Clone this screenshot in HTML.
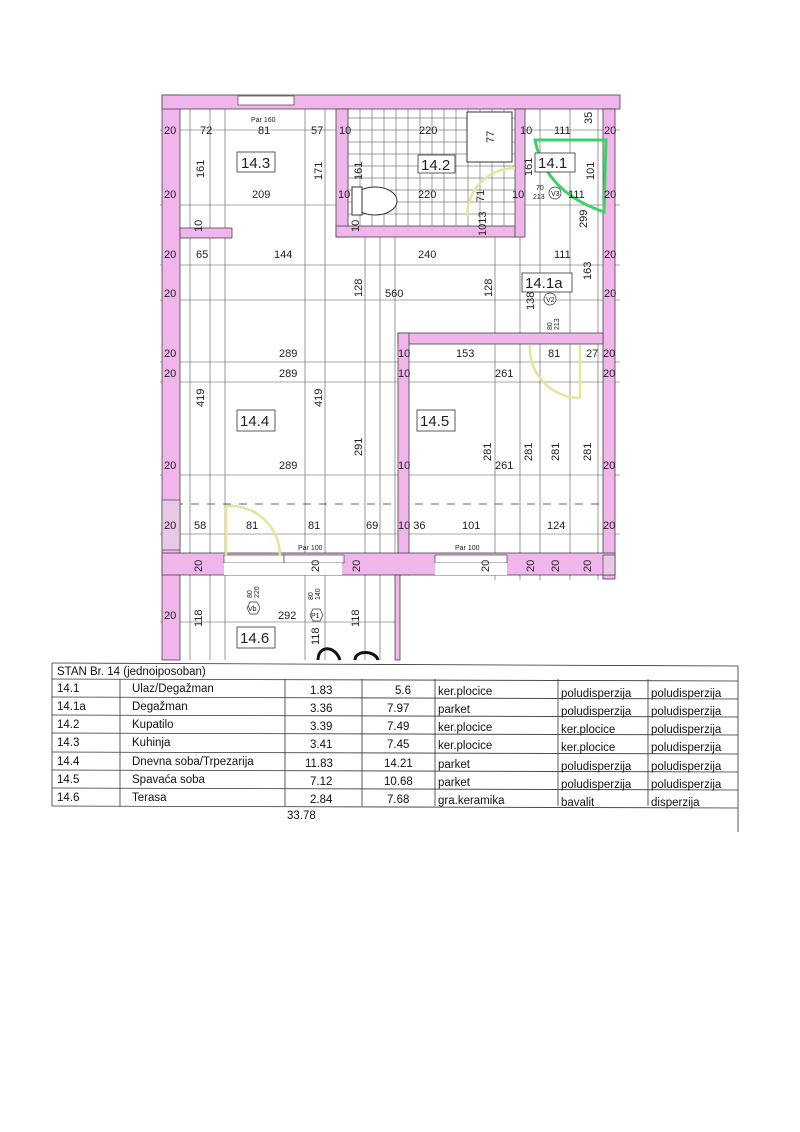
<!DOCTYPE html>
<html><head><meta charset="utf-8"><style>
body{margin:0;background:#fff;}
svg{display:block}
text{font-family:"Liberation Sans",sans-serif;font-size:11px;fill:#222}
.s{font-size:7px}
.b{font-size:15px}
.t{font-size:11.5px;fill:#111}
</style></head><body>
<svg width="800" height="1132" viewBox="0 0 800 1132" xmlns="http://www.w3.org/2000/svg">
<rect width="800" height="1132" fill="#fff"/>
<!-- grid lines -->
<g stroke="#555" stroke-width="0.6">
<line x1="160" y1="130" x2="620" y2="130"/>
<line x1="160" y1="205" x2="620" y2="205"/>
<line x1="160" y1="265" x2="620" y2="265"/>
<line x1="160" y1="300" x2="620" y2="300"/>
<line x1="160" y1="362" x2="620" y2="362"/>
<line x1="160" y1="382" x2="620" y2="382"/>
<line x1="160" y1="475" x2="620" y2="475"/>
<line x1="160" y1="534" x2="620" y2="534"/>
<line x1="160" y1="622" x2="400" y2="622"/>
<line x1="190" y1="95" x2="190" y2="660"/>
<line x1="210" y1="95" x2="210" y2="660"/>
<line x1="225" y1="95" x2="225" y2="660"/>
<line x1="305" y1="95" x2="305" y2="660"/>
<line x1="325" y1="95" x2="325" y2="660"/>
<line x1="365" y1="95" x2="365" y2="660"/>
<line x1="380" y1="95" x2="380" y2="660"/>
<line x1="395" y1="95" x2="395" y2="580"/>
<line x1="495" y1="95" x2="495" y2="580"/>
<line x1="520" y1="95" x2="520" y2="580"/>
<line x1="540" y1="95" x2="540" y2="580"/>
<line x1="570" y1="95" x2="570" y2="580"/>
<line x1="598" y1="95" x2="598" y2="580"/>
</g>
<line x1="175" y1="504" x2="600" y2="504" stroke="#333" stroke-width="0.8" stroke-dasharray="8,8"/>
<!-- bathroom tiles -->
<g stroke="#444" stroke-width="0.5">
<rect x="348" y="108" width="170" height="120" fill="#fff"/>
<path d="M348 118H518M348 130H518M348 142H518M348 154H518M348 166H518M348 178H518M348 190H518M348 202H518M348 214H518"/>
<path d="M360 108V228M372 108V228M384 108V228M396 108V228M408 108V228M420 108V228M432 108V228M444 108V228M456 108V228M468 108V228M480 108V228M492 108V228M504 108V228"/>
</g>
<rect x="467" y="112" width="45" height="50" fill="#fff" stroke="#333"/>
<ellipse cx="375" cy="201" rx="22" ry="14" fill="#fff" stroke="#333"/>
<rect x="352" y="187" width="10" height="28" fill="#fff" stroke="#333"/>
<!-- walls -->
<g fill="#f0b6ec" stroke="#444" stroke-width="0.8">
<rect x="162" y="95" width="18" height="565"/>
<rect x="162" y="95" width="458" height="14"/>
<rect x="603" y="109" width="12" height="470"/>
<rect x="336" y="109" width="12" height="128"/>
<rect x="336" y="226" width="184" height="11"/>
<rect x="515" y="109" width="10" height="128"/>
<rect x="180" y="228" width="52" height="10"/>
<rect x="398" y="333" width="205" height="11"/>
<rect x="398" y="333" width="11" height="242"/>
<rect x="162" y="553" width="453" height="22"/>
<rect x="395" y="575" width="5" height="85"/>
</g>
<!-- openings -->
<g fill="#fff" stroke="#444" stroke-width="0.7">
<rect x="238" y="96" width="56" height="9"/>
<rect x="224" y="555" width="60" height="8"/>
<rect x="284" y="555" width="60" height="8"/>
<rect x="435" y="555" width="72" height="8"/>
<rect x="224" y="563" width="60" height="12" stroke="none"/>
<rect x="284" y="563" width="58" height="12" stroke="none"/>
<rect x="435" y="563" width="72" height="12" stroke="none"/>
<rect x="162" y="500" width="18" height="50" fill="#e8c8e6"/>
<rect x="603" y="555" width="12" height="20" fill="#e8c8e6"/>
</g>
<!-- doors -->
<g fill="none" stroke="#e8e39a" stroke-width="2.5">
<path d="M226 506 A50 50 0 0 1 280 556"/>
<line x1="226" y1="506" x2="226" y2="556"/>
<path d="M515 168 A48 48 0 0 0 467 216"/>
<path d="M530 345 A50 50 0 0 0 580 398"/>
<line x1="580" y1="345" x2="580" y2="398"/>
</g>
<path d="M535 140 L606 140 L604 212 C585 205 545 190 535 140 Z" fill="none" stroke="#3fd06a" stroke-width="3"/>
<!-- room boxes -->
<g fill="#fff" stroke="#333" stroke-width="0.8">
<rect x="237" y="152" width="38" height="20"/>
<rect x="418" y="155" width="37" height="18"/>
<rect x="535" y="153" width="40" height="19"/>
<rect x="522" y="273" width="50" height="19"/>
<rect x="237" y="410" width="38" height="21"/>
<rect x="417" y="410" width="38" height="21"/>
<rect x="237" y="627" width="38" height="21"/>
</g>
<text class="b" x="241" y="168">14.3</text>
<text class="b" x="421" y="170">14.2</text>
<text class="b" x="538" y="168">14.1</text>
<text class="b" x="525" y="288">14.1a</text>
<text class="b" x="240" y="426">14.4</text>
<text class="b" x="420" y="426">14.5</text>
<text class="b" x="240" y="643">14.6</text>
<!-- dims -->
<g>
<text x="164" y="134">20</text><text x="200" y="134">72</text><text x="258" y="134">81</text><text x="311" y="134">57</text><text x="339" y="134">10</text><text x="419" y="134">220</text><text x="520" y="134">10</text><text x="554" y="134">111</text><text x="604" y="134">20</text>
<text class="s" x="251" y="122">Par 160</text>
<text x="164" y="198">20</text><text x="252" y="198">209</text><text x="338" y="198">10</text><text x="418" y="198">220</text><text x="512" y="198">10</text><text x="568" y="198">111</text><text x="604" y="198">20</text>
<text class="s" x="536" y="190">70</text><text class="s" x="533" y="199">213</text>
<circle cx="555" cy="193" r="6" fill="#fff" stroke="#333" stroke-width="0.7"/><text class="s" x="551" y="196">V3</text>
<text x="164" y="258">20</text><text x="196" y="258">65</text><text x="274" y="258">144</text><text x="418" y="258">240</text><text x="554" y="258">111</text><text x="604" y="258">20</text>
<text x="164" y="297">20</text><text x="385" y="297">560</text><text x="604" y="297">20</text>
<circle cx="550" cy="299" r="6" fill="#fff" stroke="#333" stroke-width="0.7"/><text class="s" x="546" y="302">V2</text>
<text x="164" y="357">20</text><text x="279" y="357">289</text><text x="398" y="357">10</text><text x="456" y="357">153</text><text x="548" y="357">81</text><text x="586" y="357">27</text><text x="603" y="357">20</text>
<text x="164" y="377">20</text><text x="279" y="377">289</text><text x="398" y="377">10</text><text x="495" y="377">261</text><text x="603" y="377">20</text>
<text x="164" y="469">20</text><text x="279" y="469">289</text><text x="398" y="469">10</text><text x="495" y="469">261</text><text x="603" y="469">20</text>
<text x="164" y="529">20</text><text x="194" y="529">58</text><text x="246" y="529">81</text><text x="308" y="529">81</text><text x="366" y="529">69</text><text x="398" y="529">10 36</text><text x="462" y="529">101</text><text x="547" y="529">124</text><text x="603" y="529">20</text>
<text class="s" x="298" y="550">Par 100</text><text class="s" x="455" y="550">Par 100</text>
<text x="164" y="619">20</text><text x="278" y="619">292</text>
<polygon points="247,608 250,602 257,602 260,608 257,614 250,614" fill="#fff" stroke="#333" stroke-width="0.7"/><text class="s" x="248" y="611">Vb</text>
<polygon points="310,615 313,609 320,609 323,615 320,621 313,621" fill="#fff" stroke="#333" stroke-width="0.7"/><text class="s" x="311" y="618">P1</text>
</g>
<g>
<text transform="translate(204,178) rotate(-90)">161</text>
<text transform="translate(322,180) rotate(-90)">171</text>
<text transform="translate(362,180) rotate(-90)">161</text>
<text transform="translate(532,176) rotate(-90)">161</text>
<text transform="translate(594,180) rotate(-90)">101</text>
<text transform="translate(494,143) rotate(-90)">77</text>
<text transform="translate(592,124) rotate(-90)">35</text>
<text transform="translate(484,202) rotate(-90)">71</text>
<text transform="translate(486,236) rotate(-90)">1013</text>
<text transform="translate(359,232) rotate(-90)">10</text>
<text transform="translate(202,232) rotate(-90)">10</text>
<text transform="translate(587,228) rotate(-90)">299</text>
<text transform="translate(591,280) rotate(-90)">163</text>
<text transform="translate(362,297) rotate(-90)">128</text>
<text transform="translate(492,297) rotate(-90)">128</text>
<text transform="translate(534,310) rotate(-90)">138</text>
<text class="s" transform="translate(552,330) rotate(-90)">80</text>
<text class="s" transform="translate(559,330) rotate(-90)">213</text>
<text transform="translate(204,407) rotate(-90)">419</text>
<text transform="translate(322,407) rotate(-90)">419</text>
<text transform="translate(362,456) rotate(-90)">291</text>
<text transform="translate(491,461) rotate(-90)">281</text>
<text transform="translate(532,461) rotate(-90)">281</text>
<text transform="translate(559,461) rotate(-90)">281</text>
<text transform="translate(591,461) rotate(-90)">281</text>
<text transform="translate(202,572) rotate(-90)">20</text>
<text transform="translate(319,572) rotate(-90)">20</text>
<text transform="translate(360,572) rotate(-90)">20</text>
<text transform="translate(489,572) rotate(-90)">20</text>
<text transform="translate(534,572) rotate(-90)">20</text>
<text transform="translate(559,572) rotate(-90)">20</text>
<text transform="translate(591,572) rotate(-90)">20</text>
<text transform="translate(202,627) rotate(-90)">118</text>
<text transform="translate(359,627) rotate(-90)">118</text>
<text transform="translate(319,645) rotate(-90)">118</text>
<text class="s" transform="translate(252,598) rotate(-90)">80</text>
<text class="s" transform="translate(259,598) rotate(-90)">220</text>
<text class="s" transform="translate(313,600) rotate(-90)">80</text>
<text class="s" transform="translate(320,600) rotate(-90)">140</text>
</g>
<path d="M318 660 C318 645 335 645 340 660 M355 660 C355 650 375 650 378 660" fill="none" stroke="#111" stroke-width="3"/>
<!-- table -->
<g stroke="#333" stroke-width="0.8" fill="none">
<line x1="52" y1="663" x2="738" y2="666"/>
<line x1="52" y1="679" x2="738" y2="681"/>
<line x1="52" y1="697" x2="738" y2="699"/>
<line x1="52" y1="715" x2="738" y2="717"/>
<line x1="52" y1="733" x2="738" y2="735"/>
<line x1="52" y1="752" x2="738" y2="754"/>
<line x1="52" y1="770" x2="738" y2="772"/>
<line x1="52" y1="788" x2="738" y2="790"/>
<line x1="52" y1="806" x2="738" y2="808"/>
<line x1="52" y1="663" x2="52" y2="806"/>
<line x1="120" y1="679" x2="120" y2="806"/>
<line x1="285" y1="679" x2="285" y2="806"/>
<line x1="362" y1="679" x2="362" y2="806"/>
<line x1="435" y1="679" x2="435" y2="806"/>
<line x1="558" y1="679" x2="558" y2="806"/>
<line x1="648" y1="679" x2="648" y2="806"/>
<line x1="738" y1="666" x2="738" y2="832"/>
</g>
<g class="tb">
<text class="t" x="57" y="675">STAN Br. 14 (jednoiposoban)</text>
<text class="t" x="57" y="692">14.1</text><text class="t" x="132" y="692">Ulaz/Degažman</text><text class="t" x="310" y="694">1.83</text><text class="t" x="395" y="694">5.6</text><text class="t" x="438" y="695">ker.plocice</text><text class="t" x="561" y="697">poludisperzija</text><text class="t" x="651" y="697">poludisperzija</text>
<text class="t" x="57" y="710">14.1a</text><text class="t" x="132" y="710">Degažman</text><text class="t" x="310" y="712">3.36</text><text class="t" x="387" y="712">7.97</text><text class="t" x="438" y="713">parket</text><text class="t" x="561" y="715">poludisperzija</text><text class="t" x="651" y="715">poludisperzija</text>
<text class="t" x="57" y="728">14.2</text><text class="t" x="132" y="728">Kupatilo</text><text class="t" x="310" y="730">3.39</text><text class="t" x="387" y="730">7.49</text><text class="t" x="438" y="731">ker.plocice</text><text class="t" x="561" y="733">ker.plocice</text><text class="t" x="651" y="733">poludisperzija</text>
<text class="t" x="57" y="746">14.3</text><text class="t" x="132" y="746">Kuhinja</text><text class="t" x="310" y="748">3.41</text><text class="t" x="387" y="748">7.45</text><text class="t" x="438" y="749">ker.plocice</text><text class="t" x="561" y="751">ker.plocice</text><text class="t" x="651" y="751">poludisperzija</text>
<text class="t" x="57" y="765">14.4</text><text class="t" x="132" y="765">Dnevna soba/Trpezarija</text><text class="t" x="305" y="767">11.83</text><text class="t" x="384" y="767">14.21</text><text class="t" x="438" y="768">parket</text><text class="t" x="561" y="770">poludisperzija</text><text class="t" x="651" y="770">poludisperzija</text>
<text class="t" x="57" y="783">14.5</text><text class="t" x="132" y="783">Spavaća soba</text><text class="t" x="310" y="785">7.12</text><text class="t" x="384" y="785">10.68</text><text class="t" x="438" y="786">parket</text><text class="t" x="561" y="788">poludisperzija</text><text class="t" x="651" y="788">poludisperzija</text>
<text class="t" x="57" y="801">14.6</text><text class="t" x="132" y="801">Terasa</text><text class="t" x="310" y="803">2.84</text><text class="t" x="387" y="803">7.68</text><text class="t" x="438" y="804">gra.keramika</text><text class="t" x="561" y="806">bavalit</text><text class="t" x="651" y="806">disperzija</text>
<text class="t" x="287" y="819">33.78</text>
</g>
</svg>
</body></html>
